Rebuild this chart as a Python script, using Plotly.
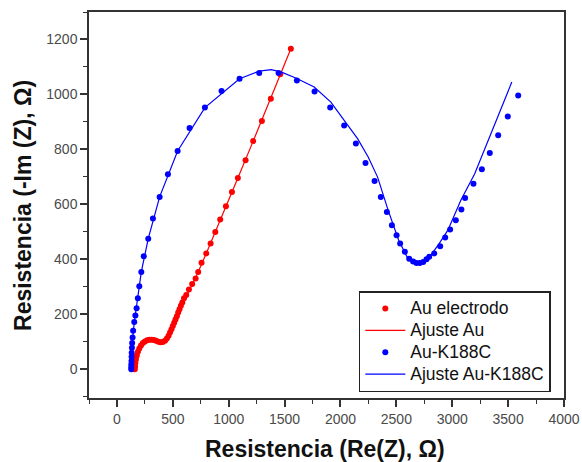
import plotly.graph_objects as go

# Au electrodo (measured)
au_x = [160, 162, 165, 170, 178, 188, 200, 215, 232, 250, 270, 290, 310, 330, 350, 370, 390, 410, 430,
        447, 462, 475, 488, 500, 512, 524, 536, 548, 560, 572, 585, 600, 620, 644, 673, 704, 727, 757,
        799, 838, 880, 924, 975, 1029, 1082, 1151, 1219, 1297, 1377, 1461, 1556]
au_y = [0, 10, 22, 35, 50, 63, 75, 86, 95, 101, 105, 107, 107, 106, 103, 100, 98, 99, 103,
        112, 122, 133, 145, 157, 169, 181, 193, 206, 218, 231, 243, 258, 270, 290, 310, 330, 354, 387,
        421, 457, 499, 545, 593, 645, 696, 760, 830, 903, 984, 1073, 1166]

# Ajuste Au (fit)
au_fit_x = [160, 165, 180, 200, 232, 270, 310, 370, 400, 430, 462, 500, 560, 620, 704, 799, 924,
            1082, 1219, 1377, 1461, 1556]
au_fit_y = [0, 25, 52, 75, 95, 105, 107, 100, 97, 103, 122, 157, 218, 265, 333, 421, 540,
            696, 830, 990, 1073, 1166]

# Au-K188C (measured)
k_x = [128, 128, 129, 130, 131, 132, 134, 136, 140, 145, 155, 165, 176, 187, 200, 218, 240, 280, 322,
       382, 456, 543, 650, 787, 936, 1097, 1273, 1446, 1610, 1768, 1908, 2033, 2138, 2224, 2305,
       2361, 2415, 2460, 2502, 2534, 2576, 2615, 2650, 2680, 2710, 2740, 2770, 2794, 2839, 2892,
       2937, 2981, 3032, 3082, 3115, 3190, 3265, 3336, 3411, 3497, 3590]
k_y = [0, 8, 18, 30, 45, 60, 78, 95, 115, 140, 172, 195, 222, 258, 302, 354, 411, 475, 548,
       627, 709, 794, 878, 952, 1012, 1057, 1078, 1078, 1051, 1011, 952, 887, 821, 750, 685,
       627, 572, 524, 487, 457, 427, 402, 392, 386, 386, 390, 400, 409, 421, 447,
       479, 508, 542, 581, 623, 675, 728, 787, 851, 920, 996]

# Ajuste Au-K188C (fit)
k_fit_x = [128, 130, 138, 155, 187, 218, 280, 382, 543, 787, 1097, 1273, 1380, 1467, 1600, 1765,
           1914, 2033, 2153, 2248, 2332, 2427, 2520, 2600, 2660, 2700, 2750, 2800, 2880, 2960,
           3077, 3200, 3350, 3533]
k_fit_y = [0, 50, 100, 170, 258, 354, 475, 627, 794, 952, 1057, 1085, 1090, 1082, 1060, 1027,
           972, 905, 839, 772, 699, 578, 470, 405, 385, 383, 390, 410, 455, 505,
           615, 710, 860, 1045]

series_names = ["Au electrodo", "Ajuste Au", "Au-K188C", "Ajuste Au-K188C"]
x_title = "Resistencia (Re(Z), Ω)"
y_title = "Resistencia (-Im (Z), Ω)"

FONT = "Liberation Sans, Arial"


def lg(name):
    return '<span style="font-size:17.5px">' + name + '</span>'


fig = go.Figure()
fig.add_trace(go.Scatter(x=au_x, y=au_y, mode="markers", name=lg(series_names[0]),
                         marker=dict(color="#ff0000", size=6, symbol="circle")))
fig.add_trace(go.Scatter(x=au_fit_x, y=au_fit_y, mode="lines", name=lg(series_names[1]),
                         line=dict(color="#ff0000", width=1.2)))
fig.add_trace(go.Scatter(x=k_x, y=k_y, mode="markers", name=lg(series_names[2]),
                         marker=dict(color="#0000ff", size=6, symbol="circle")))
fig.add_trace(go.Scatter(x=k_fit_x, y=k_fit_y, mode="lines", name=lg(series_names[3]),
                         line=dict(color="#0000ff", width=1.2)))

axis_common = dict(
    showgrid=False, zeroline=False, showline=True, linecolor="#333333", linewidth=1.5,
    mirror=True, ticks="outside", ticklen=7, tickwidth=1.5, tickcolor="#333333",
    tickfont=dict(family=FONT, size=14, color="#4a4a4a"), automargin=False,
)

fig.update_xaxes(
    range=[-250, 4000], tick0=0, dtick=500,
    minor=dict(ticks="outside", ticklen=4, tickwidth=1.2, tickcolor="#333333", dtick=250, tick0=0),
    **axis_common,
)
fig.update_yaxes(
    range=[-105, 1300], tick0=0, dtick=200,
    minor=dict(ticks="outside", ticklen=4, tickwidth=1.2, tickcolor="#333333", dtick=100, tick0=0),
    **axis_common,
)

fig.add_annotation(text=x_title, xref="paper", yref="paper", x=0.497, y=-0.132,
                   xanchor="center", yanchor="middle", showarrow=False,
                   font=dict(family=FONT, size=23, color="#111111", weight="bold"))
fig.add_annotation(text=y_title, xref="paper", yref="paper", x=-0.139, y=0.5,
                   xanchor="center", yanchor="middle", showarrow=False, textangle=-90,
                   font=dict(family=FONT, size=23, color="#111111", weight="bold"))

fig.update_layout(
    width=582, height=462,
    margin=dict(l=89, r=18, t=12, b=64),
    paper_bgcolor="white", plot_bgcolor="white",
    font=dict(family=FONT),
    showlegend=True,
    legend=dict(
        x=0.568, y=0.277, xanchor="left", yanchor="top",
        bgcolor="white", bordercolor="#222222", borderwidth=1.5,
        font=dict(family=FONT, size=14.5, color="#111111"),
        tracegroupgap=0, itemwidth=40,
    ),
)

fig.write_html("out.html", config={"displayModeBar": False},
               post_script="document.body.style.margin='0';document.body.style.overflow='hidden';")
